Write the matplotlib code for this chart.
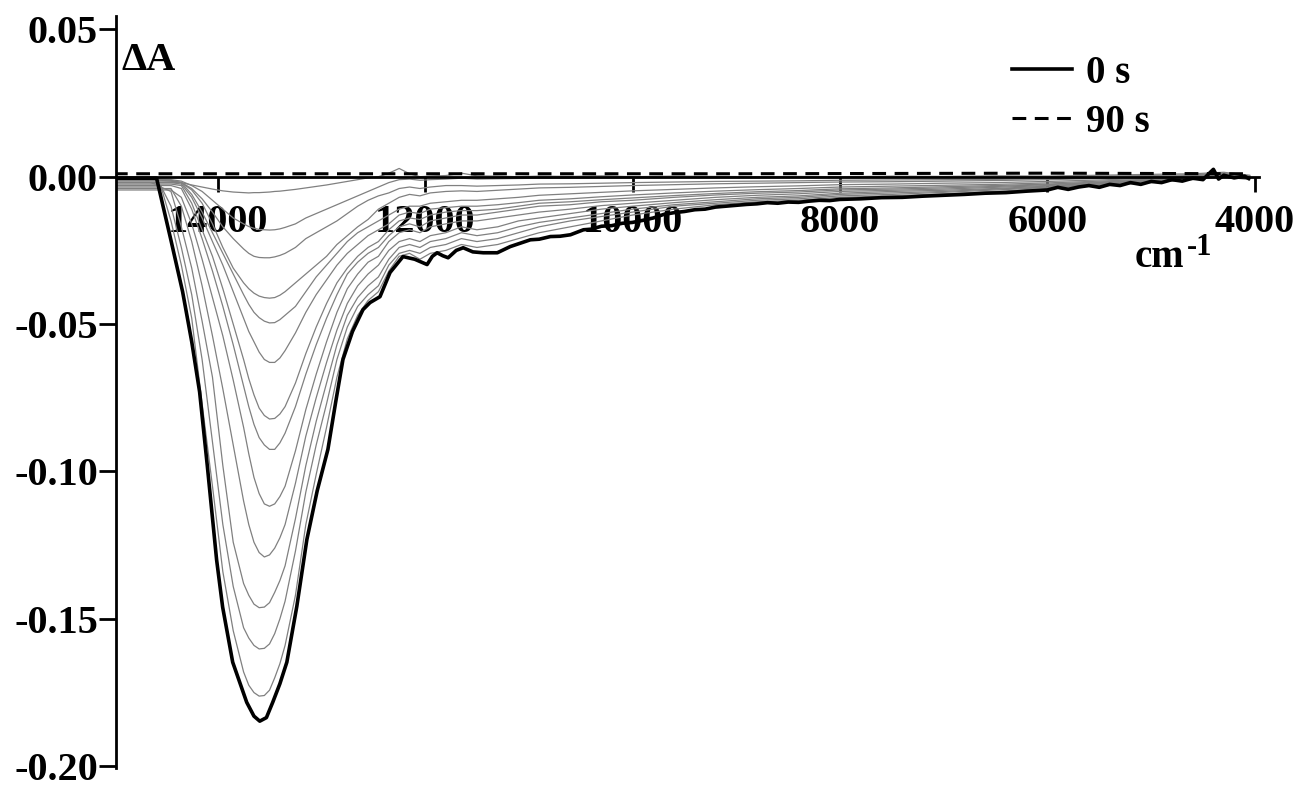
import matplotlib.pyplot as plt

plt.rcParams['font.family'] = 'Liberation Serif'
plt.rcParams['font.weight'] = 'bold'
plt.rcParams['axes.unicode_minus'] = False

# common wavenumber grid (cm-1) for the intermediate spectra
wn = [15000, 14800, 14650, 14550, 14450, 14350, 14250, 14150, 14050, 13950,
      13850, 13750, 13700, 13650, 13600, 13550, 13500, 13450, 13400, 13350,
      13250, 13150, 13050, 12950, 12850, 12750, 12650, 12550, 12450, 12350,
      12250, 12150, 12050, 11950, 11800, 11650, 11500, 11300, 11100, 10900,
      10600, 10300, 10000, 9600, 9200, 8800, 8400, 8000, 7500, 7000,
      6500, 6000, 5500, 5000, 4600, 4300, 4050]

# intermediate spectra (grey), deepest first
s1 = [-0.002, -0.002, -0.002, -0.003, -0.015, -0.030, -0.048, -0.077, -0.105, -0.134,
      -0.154, -0.168, -0.1725, -0.175, -0.1762, -0.176, -0.1742, -0.170, -0.1652, -0.159,
      -0.142, -0.118, -0.101, -0.085, -0.068, -0.055, -0.047, -0.042, -0.039, -0.032,
      -0.027, -0.026, -0.028, -0.026, -0.025, -0.023, -0.024, -0.023, -0.021, -0.019,
      -0.017, -0.015, -0.013, -0.011, -0.0095, -0.0085, -0.008, -0.007, -0.0065, -0.0058,
      -0.005, -0.004, -0.003, -0.002, -0.001, 0.000, -0.001]
s2 = [-0.003, -0.003, -0.003, -0.003, -0.010, -0.024, -0.040, -0.062, -0.090, -0.118,
      -0.139, -0.153, -0.1565, -0.159, -0.1602, -0.160, -0.1585, -0.155, -0.150, -0.144,
      -0.127, -0.107, -0.091, -0.077, -0.062, -0.051, -0.044, -0.040, -0.037, -0.030,
      -0.026, -0.025, -0.026, -0.024, -0.023, -0.021, -0.022, -0.021, -0.019, -0.017,
      -0.015, -0.0135, -0.012, -0.010, -0.009, -0.008, -0.0075, -0.0065, -0.006, -0.0053,
      -0.0045, -0.0037, -0.0028, -0.0018, -0.0008, 0.0003, -0.0005]
s3 = [-0.0035, -0.0035, -0.0035, -0.0035, -0.005, -0.017, -0.031, -0.049, -0.068, -0.098,
      -0.124, -0.138, -0.142, -0.145, -0.1462, -0.146, -0.1445, -0.141, -0.137, -0.132,
      -0.116, -0.098, -0.083, -0.070, -0.057, -0.047, -0.041, -0.037, -0.034, -0.028,
      -0.024, -0.023, -0.024, -0.022, -0.021, -0.019, -0.020, -0.019, -0.017, -0.0155,
      -0.014, -0.0125, -0.011, -0.0095, -0.0085, -0.0075, -0.007, -0.006, -0.0055, -0.005,
      -0.0042, -0.0035, -0.0026, -0.0016, -0.0006, 0.0004, -0.0004]
s4 = [-0.004, -0.004, -0.004, -0.004, -0.004, -0.010, -0.022, -0.037, -0.054, -0.072,
      -0.091, -0.110, -0.118, -0.124, -0.1275, -0.129, -0.1283, -0.126, -0.1225, -0.118,
      -0.104, -0.088, -0.075, -0.063, -0.052, -0.043, -0.037, -0.033, -0.030, -0.025,
      -0.022, -0.021, -0.022, -0.020, -0.019, -0.017, -0.018, -0.017, -0.015, -0.014,
      -0.0125, -0.011, -0.010, -0.0088, -0.0078, -0.007, -0.0065, -0.0056, -0.005, -0.0046,
      -0.004, -0.0032, -0.0024, -0.0015, -0.0005, 0.0004, -0.0004]
s5 = [-0.0045, -0.0045, -0.0045, -0.0045, -0.0045, -0.007, -0.016, -0.028, -0.041, -0.054,
      -0.069, -0.085, -0.094, -0.102, -0.1075, -0.111, -0.1118, -0.111, -0.1085, -0.105,
      -0.093, -0.079, -0.067, -0.056, -0.046, -0.038, -0.033, -0.029, -0.027, -0.022,
      -0.019, -0.018, -0.019, -0.017, -0.016, -0.015, -0.015, -0.014, -0.013, -0.012,
      -0.011, -0.0098, -0.009, -0.008, -0.007, -0.0063, -0.0058, -0.005, -0.0046, -0.0042,
      -0.0036, -0.003, -0.0022, -0.0014, -0.0005, 0.0005, -0.0003]
s6 = [-0.003, -0.003, -0.003, -0.003, -0.003, -0.004, -0.011, -0.021, -0.032, -0.044,
      -0.057, -0.071, -0.078, -0.084, -0.0885, -0.091, -0.0925, -0.0925, -0.0903, -0.087,
      -0.078, -0.067, -0.057, -0.048, -0.040, -0.033, -0.029, -0.026, -0.024, -0.020,
      -0.017, -0.016, -0.017, -0.015, -0.014, -0.013, -0.013, -0.012, -0.011, -0.010,
      -0.0095, -0.0085, -0.008, -0.007, -0.0062, -0.0056, -0.0052, -0.0045, -0.0042, -0.0038,
      -0.0033, -0.0027, -0.002, -0.0012, -0.0004, 0.0006, -0.0002]
s7 = [-0.0025, -0.0025, -0.0025, -0.0025, -0.0025, -0.003, -0.009, -0.018, -0.027, -0.038,
      -0.050, -0.062, -0.0685, -0.074, -0.0785, -0.081, -0.0822, -0.082, -0.0805, -0.078,
      -0.070, -0.060, -0.051, -0.043, -0.036, -0.031, -0.027, -0.024, -0.022, -0.018,
      -0.015, -0.014, -0.0145, -0.013, -0.012, -0.0115, -0.0115, -0.011, -0.010, -0.009,
      -0.0085, -0.0078, -0.0072, -0.0064, -0.0057, -0.0051, -0.0047, -0.0041, -0.0038, -0.0034,
      -0.003, -0.0025, -0.0018, -0.001, -0.0003, 0.0006, -0.0002]
s8 = [-0.002, -0.002, -0.002, -0.002, -0.002, -0.0025, -0.007, -0.014, -0.022, -0.030,
      -0.039, -0.048, -0.0525, -0.056, -0.0595, -0.062, -0.063, -0.063, -0.0615, -0.059,
      -0.053, -0.046, -0.040, -0.035, -0.030, -0.026, -0.023, -0.020, -0.018, -0.016,
      -0.013, -0.012, -0.0125, -0.011, -0.0105, -0.010, -0.010, -0.0095, -0.0088, -0.008,
      -0.0075, -0.0068, -0.0062, -0.0055, -0.0049, -0.0044, -0.004, -0.0035, -0.0032, -0.0029,
      -0.0026, -0.0021, -0.0015, -0.0008, 0.0, 0.0007, 0.0]
s9 = [-0.002, -0.002, -0.002, -0.002, -0.002, -0.002, -0.006, -0.012, -0.019, -0.026,
      -0.033, -0.040, -0.0433, -0.046, -0.0478, -0.049, -0.0496, -0.0495, -0.0485, -0.047,
      -0.044, -0.039, -0.034, -0.030, -0.026, -0.022, -0.019, -0.017, -0.015, -0.013,
      -0.011, -0.010, -0.010, -0.009, -0.0085, -0.008, -0.008, -0.0075, -0.007, -0.0063,
      -0.0058, -0.0053, -0.0048, -0.0043, -0.0038, -0.0034, -0.0031, -0.0027, -0.0025, -0.0022,
      -0.002, -0.0016, -0.0011, -0.0005, 0.0002, 0.0008, 0.0]
s10 = [-0.0015, -0.0015, -0.0015, -0.0015, -0.0015, -0.002, -0.0045, -0.009, -0.016, -0.024,
       -0.031, -0.036, -0.038, -0.0395, -0.0405, -0.041, -0.0412, -0.041, -0.0402, -0.039,
       -0.036, -0.033, -0.030, -0.027, -0.023, -0.020, -0.017, -0.0145, -0.011, -0.009,
       -0.007, -0.006, -0.0065, -0.0055, -0.005, -0.0048, -0.005, -0.0046, -0.0042, -0.0038,
       -0.0036, -0.0033, -0.003, -0.0027, -0.0024, -0.0022, -0.002, -0.0018, -0.0017, -0.0015,
       -0.0013, -0.001, -0.0006, -0.0002, 0.0003, 0.0008, 0.0001]
s11 = [-0.001, -0.001, -0.001, -0.001, -0.0012, -0.002, -0.004, -0.0075, -0.012, -0.017,
       -0.021, -0.0245, -0.026, -0.027, -0.0274, -0.0275, -0.0275, -0.0272, -0.0267, -0.026,
       -0.024, -0.021, -0.019, -0.017, -0.015, -0.0125, -0.010, -0.008, -0.0065, -0.0055,
       -0.004, -0.0035, -0.004, -0.0035, -0.003, -0.003, -0.0032, -0.003, -0.0028, -0.0025,
       -0.0024, -0.0022, -0.002, -0.0018, -0.0016, -0.0015, -0.0014, -0.0012, -0.0011, -0.001,
       -0.0009, -0.0007, -0.0004, 0.0, 0.0004, 0.0009, 0.0002]
s12 = [-0.0008, -0.0008, -0.0008, -0.0008, -0.001, -0.0015, -0.003, -0.005, -0.008, -0.011,
       -0.014, -0.016, -0.0169, -0.0175, -0.0179, -0.018, -0.0181, -0.018, -0.0177, -0.0172,
       -0.016, -0.014, -0.0125, -0.011, -0.0095, -0.008, -0.0065, -0.005, -0.0035, -0.002,
       -0.001, -0.0008, -0.0012, -0.001, -0.0008, -0.0005, -0.0008, -0.0007, -0.0006, -0.0005,
       -0.0005, -0.0004, -0.0004, -0.0003, -0.0003, -0.0003, -0.0002, -0.0002, -0.0002, -0.0001,
       -0.0001, 0.0, 0.0002, 0.0004, 0.0007, 0.0011, 0.0003]
s13 = [-0.0012, -0.0012, -0.0012, -0.0012, -0.0015, -0.002, -0.0028, -0.0035, -0.0042, -0.0048,
       -0.0052, -0.0054, -0.0055, -0.0054, -0.0054, -0.0053, -0.0052, -0.005, -0.0049, -0.0047,
       -0.0043, -0.0038, -0.0033, -0.0028, -0.0022, -0.0016, -0.001, -0.0004, 0.0, 0.0012,
       0.0028, 0.001, 0.0, 0.0002, 0.0004, 0.0012, 0.0003, 0.0002, 0.0, 0.0002,
       0.0001, 0.0003, 0.0, 0.0002, 0.0001, 0.0, 0.0001, 0.0, 0.0002, 0.0001,
       0.0003, 0.0002, 0.0005, 0.0008, 0.001, 0.0015, 0.0005]
grey_spectra = [s1, s2, s3, s4, s5, s6, s7, s8, s9, s10, s11, s12, s13]

# 0 s spectrum (thick black)
wn_0s = [15000, 14650, 14589, 14450, 14338, 14250, 14174, 14100, 14010, 13952,
         13855, 13720, 13650, 13594, 13530, 13469, 13400, 13333, 13237, 13140,
         13040, 12937, 12860, 12792, 12700, 12599, 12531, 12435, 12338, 12213,
         12100, 11981, 11930, 11884, 11830, 11778, 11700, 11633, 11540, 11440,
         11304, 11179, 10985, 10900, 10792, 10700, 10599, 10473, 10400, 10300,
         10200, 10100, 10000, 9900, 9800, 9700, 9600, 9500, 9400, 9300,
         9200, 9100, 9000, 8900, 8800, 8700, 8600, 8500, 8400, 8300,
         8200, 8100, 8000, 7800, 7600, 7400, 7200, 7000, 6800, 6600,
         6400, 6200, 6000, 5900, 5800, 5700, 5600, 5500, 5400, 5300,
         5200, 5100, 5000, 4900, 4800, 4700, 4600, 4500, 4450, 4400,
         4350, 4300, 4200, 4100, 4060]
dA_0s = [-0.0005, -0.0005, -0.0005, -0.0216, -0.039, -0.056, -0.073, -0.098, -0.130, -0.146,
         -0.1647, -0.1783, -0.183, -0.1847, -0.1835, -0.1783, -0.172, -0.1647, -0.1458, -0.1231,
         -0.1065, -0.0925, -0.076, -0.062, -0.0525, -0.0451, -0.0427, -0.0407, -0.0325, -0.0271,
         -0.028, -0.0298, -0.027, -0.0258, -0.0268, -0.0275, -0.025, -0.0241, -0.0255, -0.0258,
         -0.0258, -0.0237, -0.0214, -0.0212, -0.0203, -0.0202, -0.0197, -0.0180, -0.0178, -0.0168,
         -0.0166, -0.0158, -0.0155, -0.0148, -0.0140, -0.0128, -0.0122, -0.0118, -0.0112, -0.0110,
         -0.0103, -0.0100, -0.0097, -0.0094, -0.0092, -0.0088, -0.0090, -0.0086, -0.0087, -0.0083,
         -0.0080, -0.0081, -0.0077, -0.0075, -0.0071, -0.0070, -0.0066, -0.0063, -0.0060, -0.0056,
         -0.0054, -0.0049, -0.0045, -0.0036, -0.0043, -0.0035, -0.0030, -0.0036, -0.0026, -0.0030,
         -0.0020, -0.0026, -0.0016, -0.0020, -0.0010, -0.0015, -0.0005, -0.0010, 0.0008, 0.0025,
         -0.0008, 0.0005, -0.0004, 0.0002, -0.0006]

# 90 s spectrum (dashed)
wn_90s = [15000, 12000, 9000, 6000, 4050]
dA_90s = [0.001, 0.001, 0.001, 0.0012, 0.001]

x_ticks = [14000, 12000, 10000, 8000, 6000, 4000]
y_ticks = [-0.20, -0.15, -0.10, -0.05, 0.00, 0.05]
y_tick_labels = ['-0.20', '-0.15', '-0.10', '-0.05', '0.00', '0.05']

fig = plt.figure(figsize=(13.02, 7.87), dpi=100)
ax = fig.add_axes([0.0891, 0.0241, 0.8779, 0.9555])

for s in grey_spectra:
    ax.plot(wn, s, color='#808080', lw=0.9, zorder=2)
ax.plot(wn_0s, dA_0s, color='black', lw=2.6, zorder=3, label='0 s')
ax.plot(wn_90s, dA_90s, color='black', lw=2.2, dashes=(4.5, 2.8), zorder=4, label='90 s')

ax.set_xlim(14980, 3960)
ax.set_ylim(-0.2006, 0.0545)

ax.spines['bottom'].set_position(('data', 0))
ax.spines['top'].set_visible(False)
ax.spines['right'].set_visible(False)
ax.spines['left'].set_linewidth(2)
ax.spines['bottom'].set_linewidth(2)

ax.set_xticks(x_ticks)
ax.set_xticklabels([str(t) for t in x_ticks])
ax.set_yticks(y_ticks)
ax.set_yticklabels(y_tick_labels)
ax.tick_params(axis='x', direction='out', length=11, width=2, pad=9, labelsize=29)
ax.tick_params(axis='y', direction='out', length=12, width=2, pad=1, labelsize=29)

fig.text(121 / 1302, 1 - 60 / 787, '\u0394A', va='center', ha='left', fontsize=29)
fig.text(1135 / 1302, 1 - 267 / 787, 'cm', va='baseline', ha='left', fontsize=28)
fig.text(1187 / 1302, 1 - 255 / 787, '-1', va='baseline', ha='left', fontsize=22)

ax.legend(loc='upper left', bbox_to_anchor=(1012 / 1302, 1 - 55 / 787),
          bbox_transform=fig.transFigure, frameon=False, fontsize=28,
          handlelength=1.55, handletextpad=0.35, labelspacing=0.3,
          borderpad=0, borderaxespad=0)

fig.savefig('out.png', dpi=100)
